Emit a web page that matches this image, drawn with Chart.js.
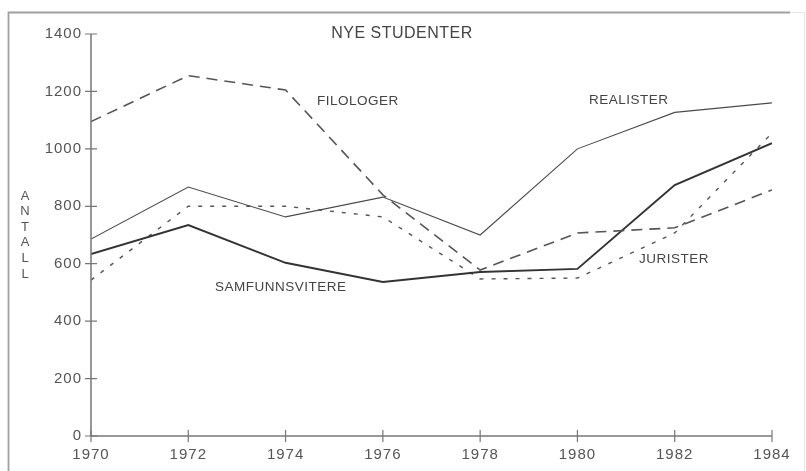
<!DOCTYPE html>
<html>
<head>
<meta charset="utf-8">
<script src="https://cdn.jsdelivr.net/npm/chart.js@4/dist/chart.umd.min.js"></script>
<style>
html,body{margin:0;padding:0;background:#fff;}
#wrap{width:806px;height:471px;position:relative;}
</style>
</head>
<body>
<div id="wrap"><canvas id="c" width="806" height="471"></canvas></div>
<script>
const years = [1970, 1972, 1974, 1976, 1978, 1980, 1982, 1984];
const filologer = [1095, 1255, 1205, 840, 578, 707, 725, 857];
const realister = [686, 867, 763, 832, 700, 1000, 1127, 1160];
const samfunnsvitere = [634, 735, 603, 536, 571, 582, 874, 1020];
const jurister = [543, 800, 800, 763, 547, 550, 707, 1055];
const yTicks = [0, 200, 400, 600, 800, 1000, 1200, 1400];
const xTicks = years;
const chartTitle = 'NYE STUDENTER';
const yTitle = 'ANTALL';
const seriesLabels = ['FILOLOGER', 'REALISTER', 'SAMFUNNSVITERE', 'JURISTER'];

const FONT = '"Liberation Sans", Arial, sans-serif';
const TXT = '#555';

function pts(arr){ return years.map((y,i)=>({x:y, y:arr[i]})); }

const extras = {
  id: 'extras',
  beforeDraw(chart){
    const ctx = chart.ctx;
    ctx.save();
    ctx.fillStyle = '#fff';
    ctx.fillRect(0,0,chart.width,chart.height);
    ctx.strokeStyle = '#a0a0a0';
    ctx.lineWidth = 1.8;
    ctx.beginPath();
    ctx.moveTo(8.5, 475); ctx.lineTo(8.5, 12.5); ctx.lineTo(790, 12.5);
    ctx.stroke();
    ctx.strokeStyle = '#e6e6e6';
    ctx.lineWidth = 1;
    ctx.beginPath();
    ctx.moveTo(790, 12.5); ctx.lineTo(804.5, 12.5); ctx.lineTo(804.5, 475);
    ctx.stroke();
    ctx.restore();
  },
  afterDraw(chart){
    const ctx = chart.ctx;
    const xs = chart.scales.x, ys = chart.scales.y;
    ctx.save();
    ctx.strokeStyle = '#777';
    ctx.lineWidth = 1.5;
    ctx.beginPath();
    const x0 = xs.getPixelForValue(1970), x1 = xs.getPixelForValue(1984);
    const y0 = ys.getPixelForValue(0), y1 = ys.getPixelForValue(1400);
    ctx.moveTo(x0, y1); ctx.lineTo(x0, y0); ctx.lineTo(x1, y0);
    ctx.stroke();
    ctx.lineWidth = 1.2;
    ctx.beginPath();
    yTicks.forEach(v=>{ const p = ys.getPixelForValue(v); ctx.moveTo(x0-6,p); ctx.lineTo(x0+6,p); });
    xTicks.forEach(v=>{ const p = xs.getPixelForValue(v); ctx.moveTo(p,y0-6); ctx.lineTo(p,y0+6); });
    ctx.stroke();
    ctx.fillStyle = TXT;
    ctx.font = '15px ' + FONT;
    try { ctx.letterSpacing = '1px'; } catch(e){}
    ctx.textAlign = 'right'; ctx.textBaseline = 'middle';
    yTicks.forEach(v=>{ ctx.fillText(String(v), x0-9, ys.getPixelForValue(v)); });
    ctx.textAlign = 'center'; ctx.textBaseline = 'middle';
    xTicks.forEach(v=>{ ctx.fillText(String(v), xs.getPixelForValue(v), y0+19); });
    ctx.font = '13px ' + FONT;
    try { ctx.letterSpacing = '0px'; } catch(e){}
    ctx.textAlign = 'center';
    yTitle.split('').forEach((ch,i)=>{ ctx.fillText(ch, 25, 196 + i*15.6); });
    ctx.fillStyle = '#444';
    ctx.font = '16px ' + FONT;
    try { ctx.letterSpacing = '0.5px'; } catch(e){}
    ctx.fillText(chartTitle, 402, 34);
    ctx.font = '13.5px ' + FONT;
    ctx.textAlign = 'left';
    ctx.fillText(seriesLabels[0], 317, 101);
    ctx.fillText(seriesLabels[1], 589, 100);
    ctx.fillText(seriesLabels[2], 215, 287);
    ctx.fillText(seriesLabels[3], 639, 259);
    ctx.restore();
  }
};

new Chart(document.getElementById('c'), {
  type: 'line',
  data: {
    datasets: [
      { label: seriesLabels[0], data: pts(filologer), borderColor: '#555', borderWidth: 1.6, borderDash: [11,7], pointRadius: 0, tension: 0, fill: false },
      { label: seriesLabels[1], data: pts(realister), borderColor: '#4a4a4a', borderWidth: 1.1, pointRadius: 0, tension: 0, fill: false },
      { label: seriesLabels[2], data: pts(samfunnsvitere), borderColor: '#333', borderWidth: 2, pointRadius: 0, tension: 0, fill: false },
      { label: seriesLabels[3], data: pts(jurister), borderColor: '#555', borderWidth: 1.4, borderDash: [4,8], pointRadius: 0, tension: 0, fill: false }
    ]
  },
  options: {
    responsive: false,
    animation: false,
    layout: { padding: { left: 0, top: 34, right: 34, bottom: 0 } },
    plugins: { legend: { display: false }, tooltip: { enabled: false }, title: { display: false } },
    scales: {
      x: {
        type: 'linear', min: 1970, max: 1984,
        ticks: { display: false, stepSize: 2 },
        grid: { display: false }, border: { display: false },
        afterFit(s){ s.height = 35; }
      },
      y: {
        min: 0, max: 1400,
        ticks: { display: false, stepSize: 200 },
        grid: { display: false }, border: { display: false },
        afterFit(s){ s.width = 91; }
      }
    }
  },
  plugins: [extras]
});
</script>
</body>
</html>
